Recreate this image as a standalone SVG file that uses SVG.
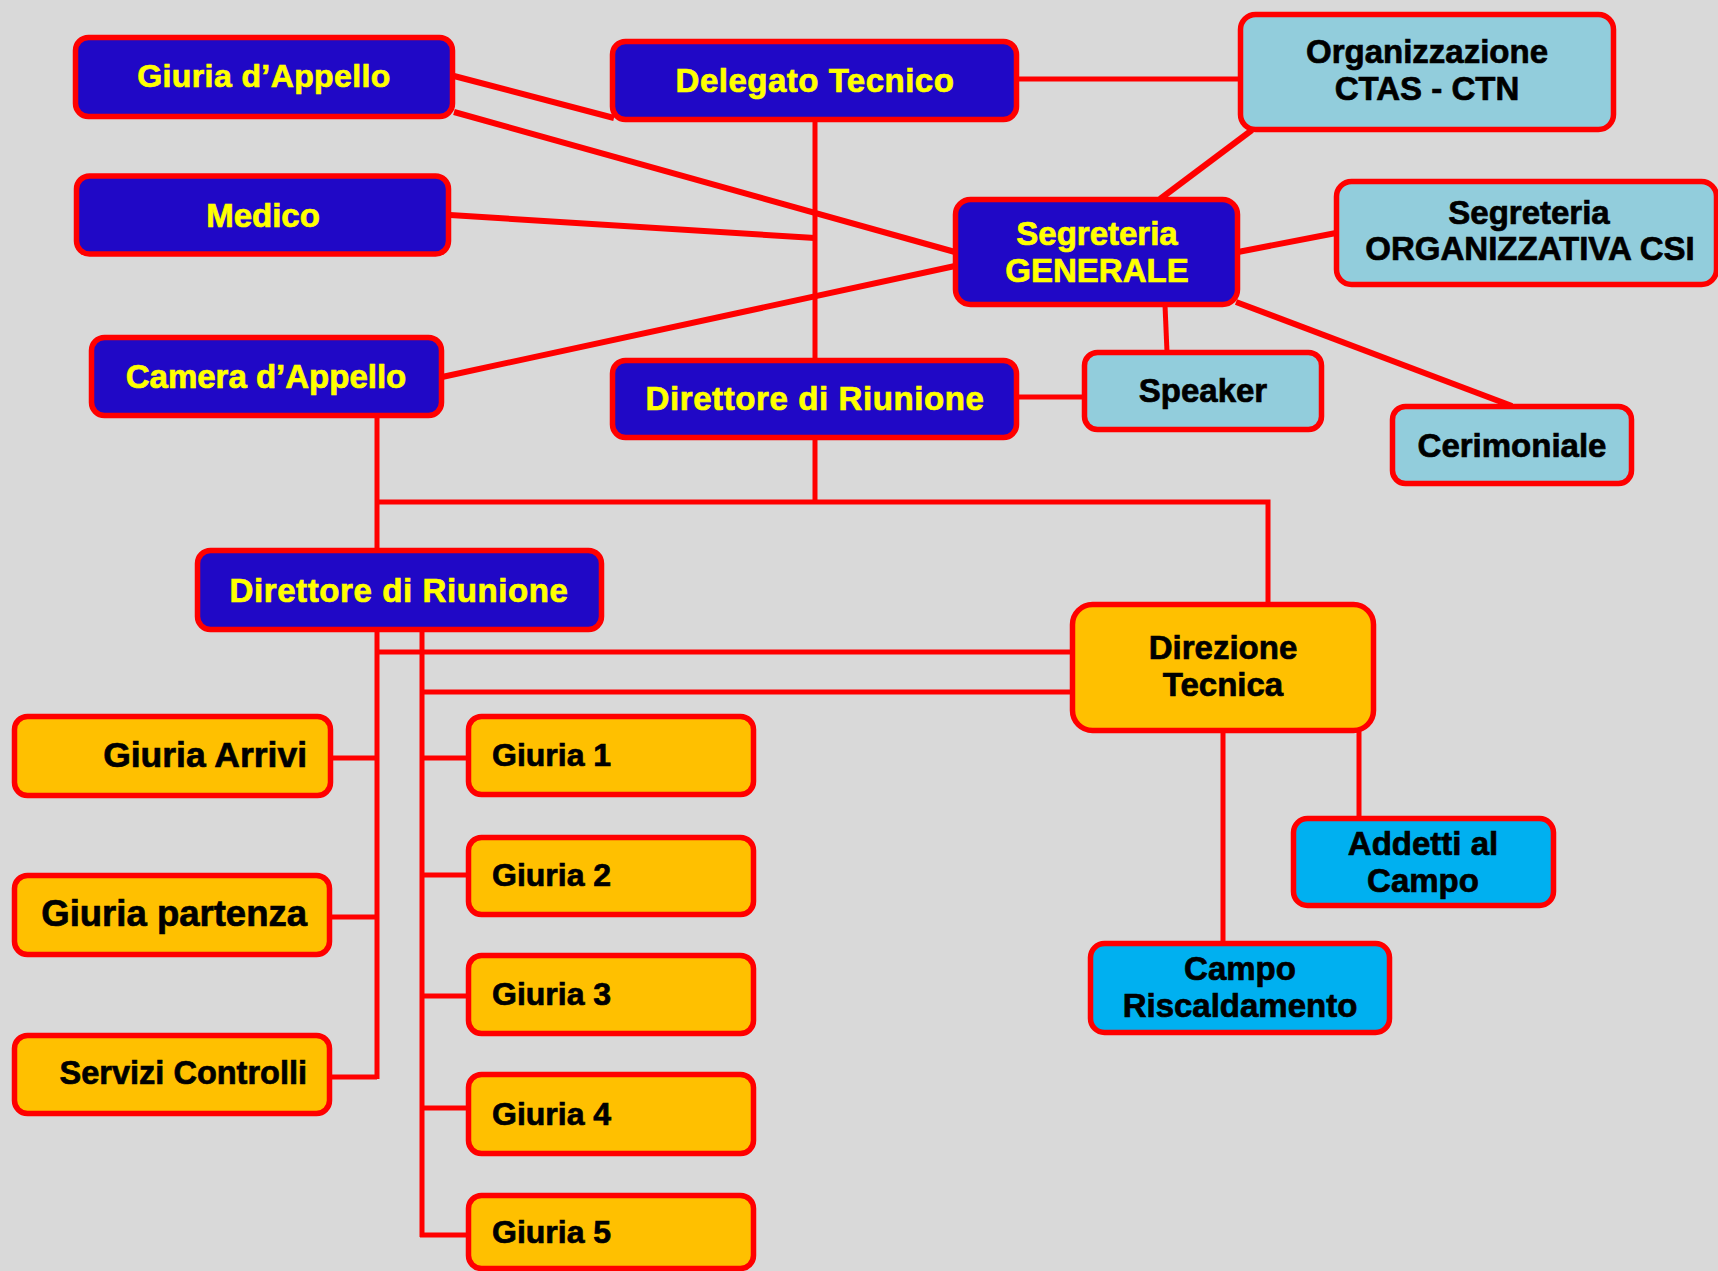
<svg xmlns="http://www.w3.org/2000/svg" width="1718" height="1271" viewBox="0 0 1718 1271">
<style>
.bg{fill:#D9D9D9}
.c{fill:none;stroke:#FF0000;stroke-width:5}
.d{fill:none;stroke:#FF0000;stroke-width:6}
rect{stroke:#FF0000;stroke-width:5.5}
.blue rect{fill:#2008C6}
.lb rect{fill:#92CDDC}
.or rect{fill:#FFC000}
.cy rect{fill:#00B0F0}
text{font-family:"Liberation Sans",Arial,sans-serif;font-weight:bold;font-size:33px;stroke-width:0.7}
.blue text{fill:#FFFF00;stroke:#FFFF00}
.lb text,.or text,.cy text{fill:#000000;stroke:#000000}
.m{text-anchor:middle}
.e{text-anchor:end}
</style>
<rect class="bg" x="0" y="0" width="1718" height="1271" style="stroke:none"/>
<g id="connectors">
<path class="d" d="M454,76 L614,118"/>
<path class="d" d="M454,112 L955,252"/>
<path class="d" d="M450,215 L815,238"/>
<path class="d" d="M442,377 L955,266"/>
<path class="c" d="M815,120 V360"/>
<path class="c" d="M1017,79 H1240"/>
<path class="d" d="M1252,130 L1160,199"/>
<path class="d" d="M1238,252 L1336,233"/>
<path class="c" d="M1165,305 L1167,352"/>
<path class="d" d="M1236,302 L1512,406"/>
<path class="c" d="M1017,397 H1084"/>
<path class="c" d="M815,438 V502"/>
<path class="c" d="M377,502 H1268 V604"/>
<path class="c" d="M377,416 V550"/>
<path class="c" d="M377,630 V1079"/>
<path class="c" d="M331,758 H377"/>
<path class="c" d="M330,917 H377"/>
<path class="c" d="M330,1077 H377"/>
<path class="c" d="M377,652 H1072"/>
<path class="c" d="M422,630 V1237"/>
<path class="c" d="M422,692 H1072"/>
<path class="c" d="M422,758 H468"/>
<path class="c" d="M422,875 H468"/>
<path class="c" d="M422,996 H468"/>
<path class="c" d="M422,1108 H468"/>
<path class="c" d="M420,1235 H468"/>
<path class="c" d="M1223,731 V943"/>
<path class="c" d="M1359,731 V818"/>
</g>
<g id="giuria-appello" class="blue"><rect x="75.5" y="37.5" width="377" height="79" rx="13"/><text class="m" x="264" y="87" style="font-size:32px;letter-spacing:0.4px">Giuria d’Appello</text></g>
<g id="medico" class="blue"><rect x="76.5" y="176" width="372" height="78" rx="13"/><text class="m" x="263" y="227">Medico</text></g>
<g id="camera-appello" class="blue"><rect x="91.5" y="337.5" width="350" height="78" rx="13"/><text class="m" x="266" y="388">Camera d’Appello</text></g>
<g id="delegato-tecnico" class="blue"><rect x="612.5" y="41.5" width="404" height="78" rx="13"/><text class="m" x="815" y="92" style="letter-spacing:0.5px">Delegato Tecnico</text></g>
<g id="organizzazione" class="lb"><rect x="1240.5" y="14.5" width="373" height="115" rx="15"/><text class="m" x="1427" y="63">Organizzazione</text><text class="m" x="1427" y="100">CTAS - CTN</text></g>
<g id="segreteria-generale" class="blue"><rect x="955.5" y="199.5" width="282" height="105" rx="15"/><text class="m" x="1097" y="245">Segreteria</text><text class="m" x="1097" y="282">GENERALE</text></g>
<g id="segreteria-organizzativa" class="lb"><rect x="1336.5" y="181.5" width="380" height="103" rx="15"/><text class="m" x="1529" y="224">Segreteria</text><text class="m" x="1530" y="260">ORGANIZZATIVA CSI</text></g>
<g id="speaker" class="lb"><rect x="1084.5" y="352.5" width="237" height="77" rx="13"/><text class="m" x="1203" y="402">Speaker</text></g>
<g id="cerimoniale" class="lb"><rect x="1392.5" y="406.5" width="239" height="77" rx="13"/><text class="m" x="1512" y="457">Cerimoniale</text></g>
<g id="direttore-riunione-1" class="blue"><rect x="612.5" y="360.5" width="404" height="77" rx="13"/><text class="m" x="815" y="410" style="letter-spacing:0.6px">Direttore di Riunione</text></g>
<g id="direttore-riunione-2" class="blue"><rect x="197.5" y="550.5" width="404" height="79" rx="13"/><text class="m" x="399" y="602" style="letter-spacing:0.6px">Direttore di Riunione</text></g>
<g id="direzione-tecnica" class="or"><rect x="1072.5" y="604.5" width="301" height="126" rx="20"/><text class="m" x="1223" y="659">Direzione</text><text class="m" x="1223" y="696">Tecnica</text></g>
<g id="addetti-campo" class="cy"><rect x="1293.5" y="818.5" width="260" height="87" rx="14"/><text class="m" x="1423" y="855">Addetti al</text><text class="m" x="1423" y="892">Campo</text></g>
<g id="campo-riscaldamento" class="cy"><rect x="1090.5" y="943.5" width="299" height="89" rx="14"/><text class="m" x="1240" y="980">Campo</text><text class="m" x="1240" y="1017">Riscaldamento</text></g>
<g id="giuria-arrivi" class="or"><rect x="14.5" y="716.5" width="316" height="79" rx="13"/><text class="e" x="307" y="767" style="font-size:35.5px">Giuria Arrivi</text></g>
<g id="giuria-partenza" class="or"><rect x="14.5" y="875.5" width="315" height="79" rx="13"/><text class="e" x="307" y="926" style="font-size:36.5px">Giuria partenza</text></g>
<g id="servizi-controlli" class="or"><rect x="14.5" y="1035.5" width="315" height="78" rx="13"/><text class="e" x="307" y="1084" style="font-size:32.5px">Servizi Controlli</text></g>
<g id="giuria-1" class="or"><rect x="468.5" y="716.5" width="285" height="78" rx="13"/><text x="492" y="766" style="font-size:32px">Giuria 1</text></g>
<g id="giuria-2" class="or"><rect x="468.5" y="837.5" width="285" height="77" rx="13"/><text x="492" y="886" style="font-size:32px">Giuria 2</text></g>
<g id="giuria-3" class="or"><rect x="468.5" y="955.5" width="285" height="78" rx="13"/><text x="492" y="1005" style="font-size:32px">Giuria 3</text></g>
<g id="giuria-4" class="or"><rect x="468.5" y="1074.5" width="285" height="79" rx="13"/><text x="492" y="1125" style="font-size:32px">Giuria 4</text></g>
<g id="giuria-5" class="or"><rect x="468.5" y="1195.5" width="285" height="73" rx="13"/><text x="492" y="1243" style="font-size:32px">Giuria 5</text></g>
</svg>
